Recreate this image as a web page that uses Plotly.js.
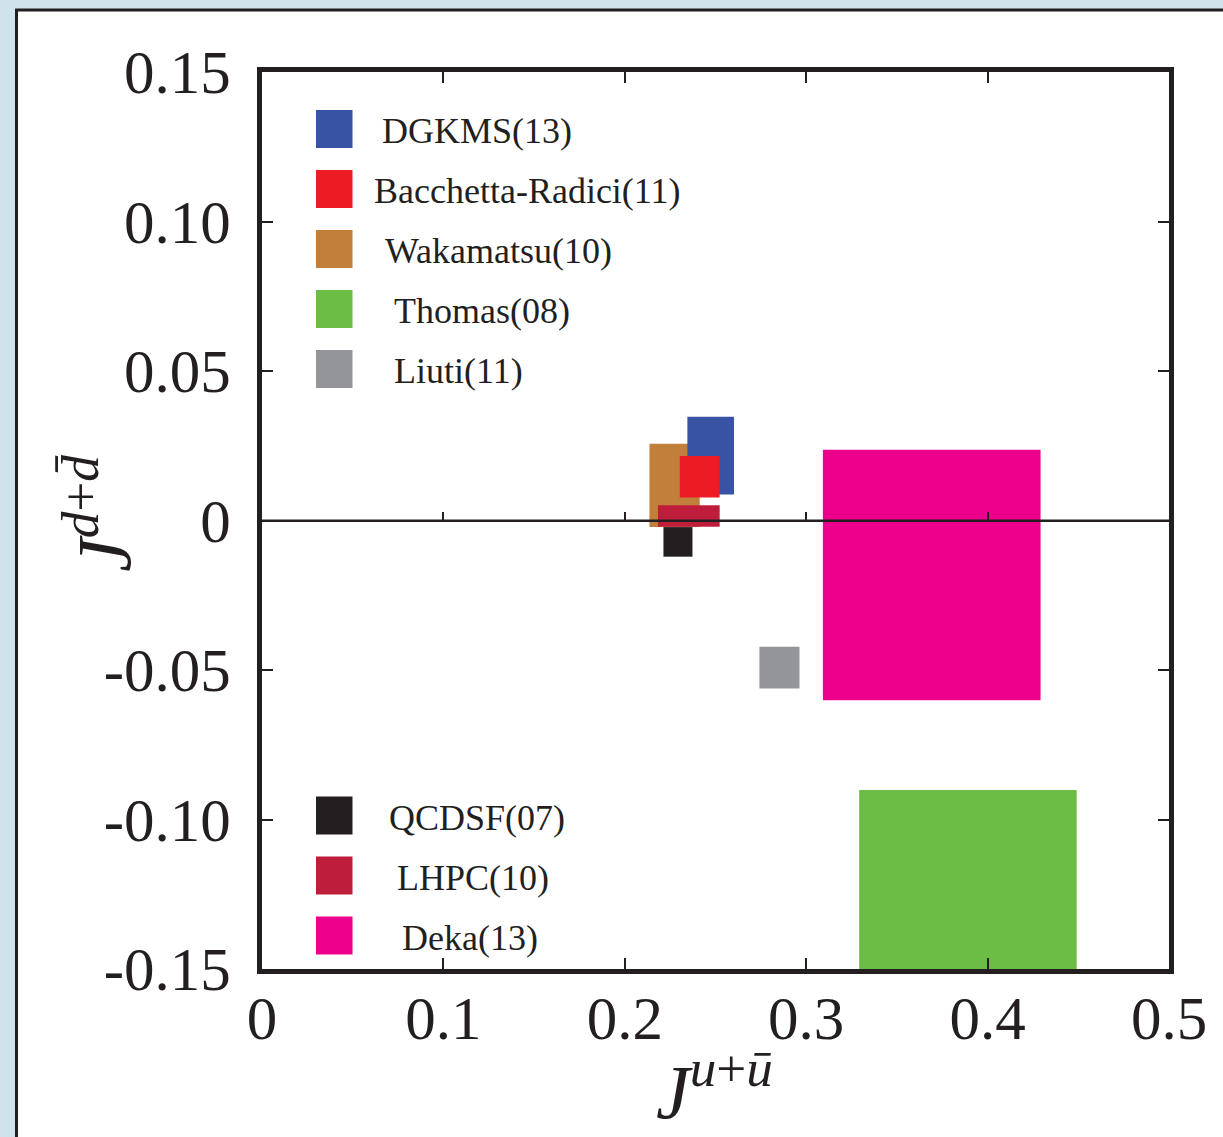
<!DOCTYPE html>
<html>
<head>
<meta charset="utf-8">
<script src="https://cdn.plot.ly/plotly-3.0.1.min.js"></script>
<style>html,body{margin:0;padding:0;background:#d0e2ec;}</style>
</head>
<body>
<div id="chart" style="width:1223px;height:1137px;"></div>
<script>
// ---- data (rectangles: J^{u+ubar} range x0..x1, J^{d+dbar} range y0..y1) ----
var names  = ["Wakamatsu(10)", "DGKMS(13)", "Bacchetta-Radici(11)", "LHPC(10)", "QCDSF(07)", "Liuti(11)", "Deka(13)", "Thomas(08)"];
var colors = ["#c17f3b", "#3953a4", "#ed1c24", "#be1e3c", "#231f20", "#939598", "#ec008c", "#6cbd45"];
var x0 = [0.2136, 0.2345, 0.2303, 0.2183, 0.2213, 0.2742, 0.3092, 0.3292];
var x1 = [0.2413, 0.2602, 0.2523, 0.2523, 0.2373, 0.2963, 0.4292, 0.4491];
var y0 = [-0.0022, 0.0087, 0.0077, -0.0021, -0.0121, -0.0562, -0.0601, -0.1500];
var y1 = [0.0257, 0.0347, 0.0216, 0.0051, -0.0022, -0.0422, 0.0237, -0.0901];

// legend groups (order as in the picture)
var legendTop    = ["DGKMS(13)", "Bacchetta-Radici(11)", "Wakamatsu(10)", "Thomas(08)", "Liuti(11)"];
var legendBottom = ["QCDSF(07)", "LHPC(10)", "Deka(13)"];

var xTickVals = [0, 0.1, 0.2, 0.3, 0.4, 0.5];
var xTickText = ["0", "0.1", "0.2", "0.3", "0.4", "0.5"];
var yTickVals = [-0.15, -0.10, -0.05, 0, 0.05, 0.10, 0.15];
var yTickText = ["-0.15", "-0.10", "-0.05", "0", "0.05", "0.10", "0.15"];
var zeroTickVals = [0.1, 0.2, 0.3, 0.4];

var xTitle = "<i>J</i><sup><i>u</i>+<i>ū</i></sup>";
var yTitle = "<i>J</i><sup><i>d</i>+<i>d̄</i></sup>";

// ---- page geometry / layout constants (pixels) ----
var W = 1223, H = 1137;
var M = {l: 262, r: 54, t: 72, b: 168};
var PW = W - M.l - M.r, PH = H - M.t - M.b;
function px2paperX(px) { return (px - M.l) / PW; }
function px2paperY(py) { return (H - M.b - py) / PH; }
var legendTopTextLeft    = [380, 372, 383, 392, 392];
var legendBottomTextLeft = [387, 395, 400];

var ink = "#231f20";
var serif = "Liberation Serif, DejaVu Serif, serif";

var traces = names.map(function (n, i) {
  return {
    type: "scatter",
    mode: "none",
    fill: "toself",
    fillcolor: colors[i],
    x: [x0[i], x1[i], x1[i], x0[i], x0[i]],
    y: [y0[i], y0[i], y1[i], y1[i], y0[i]],
    name: n,
    showlegend: false,
    hoverinfo: "name"
  };
});
// carrier trace for the zero-line axis
traces.push({type: "scatter", mode: "lines", x: [0, 0.5], y: [0, 0], xaxis: "x2",
  line: {color: ink, width: 2}, showlegend: false, hoverinfo: "skip"});

var shapes = [];
var annotations = [];

// white panel with black frame
shapes.push({type: "rect", xref: "paper", yref: "paper", layer: "below",
  x0: px2paperX(16.5), x1: px2paperX(W + 20), y0: px2paperY(H + 20), y1: px2paperY(10),
  fillcolor: "#ffffff", line: {color: ink, width: 3}});

function addLegend(list, firstCenterPx, textLefts) {
  list.forEach(function (n, k) {
    var i = names.indexOf(n);
    var cy = firstCenterPx + 60 * k;
    shapes.push({type: "rect", xref: "paper", yref: "paper", layer: "above",
      x0: px2paperX(316), x1: px2paperX(352.5),
      y0: px2paperY(cy + 19), y1: px2paperY(cy - 19),
      fillcolor: colors[i], line: {width: 0}});
    annotations.push({xref: "paper", yref: "paper", x: px2paperX(textLefts[k]), y: px2paperY(cy + 2),
      xanchor: "left", yanchor: "middle", showarrow: false, text: n,
      font: {family: serif, size: 36, color: ink}});
  });
}
addLegend(legendTop, 129, legendTopTextLeft);
addLegend(legendBottom, 815.5, legendBottomTextLeft);

// axis titles
annotations.push({xref: "paper", yref: "paper", x: px2paperX(714), y: px2paperY(1086),
  xanchor: "center", yanchor: "middle", showarrow: false, text: xTitle,
  font: {family: serif, size: 76, color: ink}});
annotations.push({xref: "paper", yref: "paper", x: px2paperX(98), y: px2paperY(514),
  xanchor: "center", yanchor: "middle", showarrow: false, text: yTitle, textangle: -90,
  font: {family: serif, size: 76, color: ink}});

var axisCommon = {
  showline: true, linecolor: ink, linewidth: 5, mirror: "ticks",
  ticks: "inside", ticklen: 11, tickwidth: 2, tickcolor: ink,
  showgrid: false, zeroline: false,
  tickfont: {family: serif, size: 61, color: ink}
};

var layout = {
  width: W, height: H,
  margin: M,
  paper_bgcolor: "#d0e2ec",
  plot_bgcolor: "#ffffff",
  showlegend: false,
  xaxis: Object.assign({}, axisCommon, {
    range: [0, 0.5], tickmode: "array", tickvals: xTickVals, ticktext: xTickText,
    ticklabelstandoff: -8
  }),
  yaxis: Object.assign({}, axisCommon, {
    range: [-0.15, 0.15], tickmode: "array", tickvals: yTickVals, ticktext: yTickText,
    ticklabelstandoff: 14
  }),
  xaxis2: {
    overlaying: "x", anchor: "free", position: 0.5, side: "top",
    range: [0, 0.5], tickmode: "array", tickvals: zeroTickVals,
    ticks: "outside", ticklen: 8, tickwidth: 2, tickcolor: ink,
    showline: true, linecolor: ink, linewidth: 2,
    showticklabels: false, showgrid: false, zeroline: false
  },
  shapes: shapes,
  annotations: annotations
};

Plotly.newPlot("chart", traces, layout, {displayModeBar: false, staticPlot: true});
</script>
</body>
</html>
